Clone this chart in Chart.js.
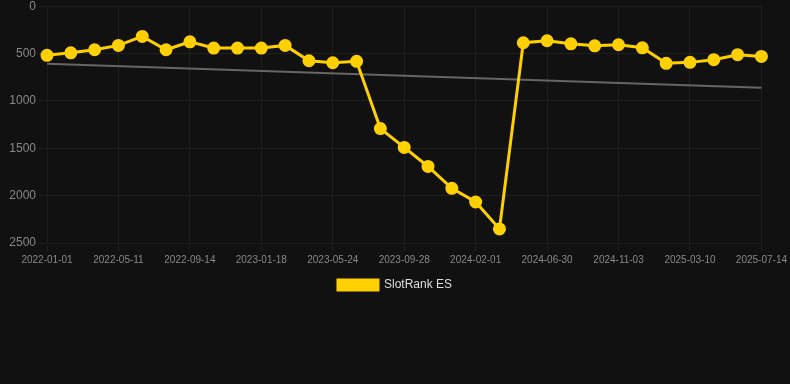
<!DOCTYPE html>
<html>
<head>
<meta charset="utf-8">
<script src="https://cdn.jsdelivr.net/npm/chart.js@4/dist/chart.umd.min.js"></script>
<style>
  html, body { margin: 0; padding: 0; background: #111111; overflow: hidden; }
  #wrap { width: 790px; height: 305px; position: relative; margin-top: -4px; }
</style>
</head>
<body>
<div id="wrap"><canvas id="chart"></canvas></div>
<script>
// dates of each sample (only every 3rd one is shown on the axis)
const dates = [
    '2022-01-01', '2022-02-13', '2022-03-28', '2022-05-11', '2022-06-22', '2022-08-03',
    '2022-09-14', '2022-10-26', '2022-12-07', '2023-01-18', '2023-03-01', '2023-04-12',
    '2023-05-24', '2023-07-05', '2023-08-16', '2023-09-28', '2023-11-09', '2023-12-21',
    '2024-02-01', '2024-03-14', '2024-05-22', '2024-06-30', '2024-08-10', '2024-09-22',
    '2024-11-03', '2024-12-15', '2025-01-27', '2025-03-10', '2025-04-21', '2025-06-02',
    '2025-07-14'
];

// rank values
const rankES = [
    519, 492, 460, 414, 319, 460, 376, 442, 442, 442, 414, 576, 597, 582, 1292,
    1491, 1692, 1923, 2067, 2351, 386, 365, 397, 418, 407, 439, 603, 593, 565, 512,
    530
];

// trend line: just the two ends
const trendStart = 607;
const trendEnd = 860;
const trend = dates.map((d, i) => i === 0 ? trendStart : (i === dates.length - 1 ? trendEnd : null));

const yTicks = [0, 500, 1000, 1500, 2000, 2500];

new Chart(document.getElementById('chart'), {
    type: 'line',
    data: {
        labels: dates,
        datasets: [
            {
                label: 'SlotRank ES',
                data: rankES,
                borderColor: '#FFD000',
                backgroundColor: '#FFD000',
                borderWidth: 3,
                pointRadius: 5,
                pointHoverRadius: 6,
                tension: 0
            },
            {
                label: 'trend',
                data: trend,
                borderColor: '#666666',
                borderWidth: 2,
                pointRadius: 0,
                spanGaps: true,
                tension: 0
            }
        ]
    },
    options: {
        responsive: true,
        maintainAspectRatio: false,
        animation: false,
        plugins: {
            legend: {
                position: 'bottom',
                labels: {
                    color: '#dddddd',
                    boxWidth: 40,
                    boxHeight: 10,
                    font: { size: 12 },
                    filter: item => item.text !== 'trend'
                }
            },
            tooltip: { enabled: false }
        },
        scales: {
            x: {
                grid: {
                    color: ctx => (ctx.index % 3 === 0 ? '#1f1f1f' : 'rgba(0,0,0,0)')
                },
                ticks: {
                    color: '#888888',
                    font: { size: 10 },
                    autoSkip: false,
                    maxRotation: 0,
                    callback: function (val, i) {
                        return i % 3 === 0 ? dates[i] : '';
                    }
                }
            },
            y: {
                reverse: true,
                min: 0,
                max: 2500,
                afterBuildTicks: axis => { axis.ticks = yTicks.map(v => ({ value: v })); },
                afterFit: axis => { axis.width = 47; },
                grid: { color: '#1f1f1f' },
                ticks: {
                    color: '#888888',
                    font: { size: 12 },
                    callback: v => String(v)
                }
            }
        }
    }
});
</script>
</body>
</html>
